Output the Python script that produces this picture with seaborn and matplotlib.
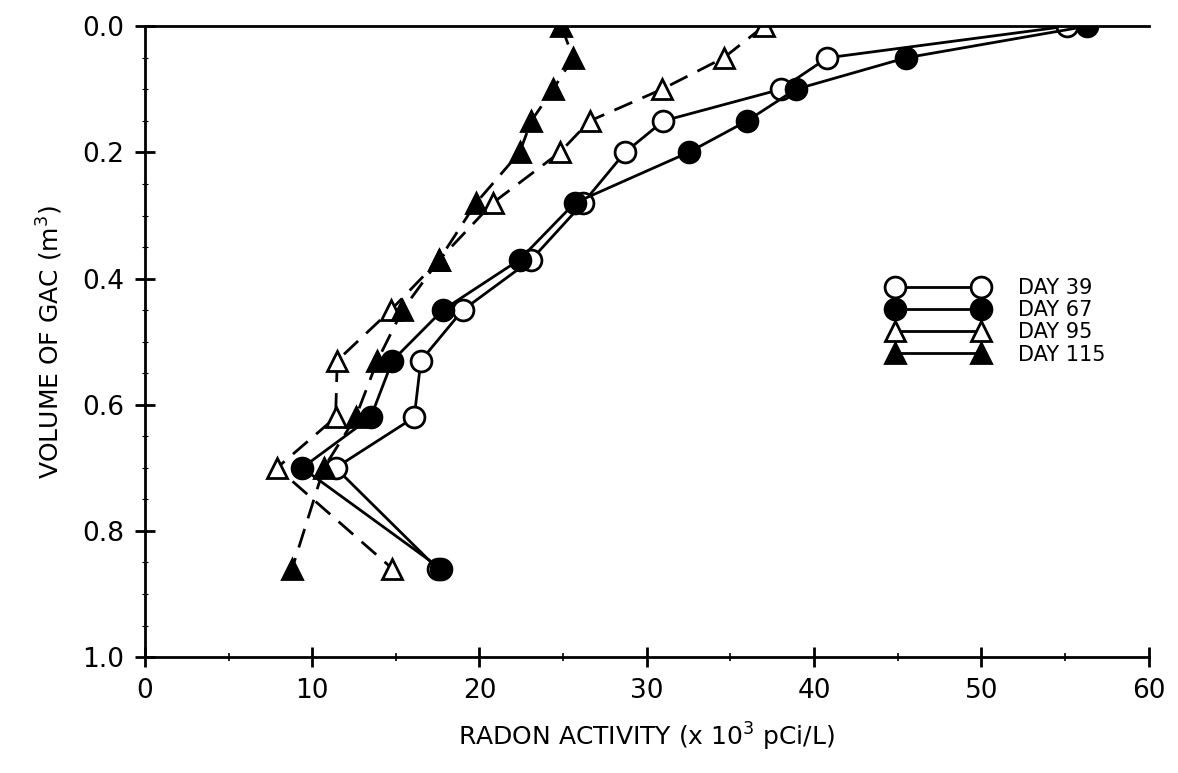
import seaborn as sns
import matplotlib.pyplot as plt
import pandas as pd
from matplotlib.lines import Line2D
from matplotlib.ticker import MultipleLocator

# sampling port volumes (m3) and radon activity (x 10^3 pCi/L)
volume = [0.0, 0.05, 0.10, 0.15, 0.20, 0.28, 0.37, 0.45, 0.53, 0.62, 0.70, 0.86]
day39 = [55.1, 40.8, 38.0, 31.0, 28.7, 26.2, 23.1, 19.0, 16.5, 16.1, 11.4, 17.5]
day67 = [56.3, 45.5, 38.9, 36.0, 32.5, 25.7, 22.4, 17.8, 14.8, 13.5, 9.4, 17.7]
day95 = [37.0, 34.6, 30.9, 26.6, 24.8, 20.8, 17.6, 14.7, 11.5, 11.4, 7.9, 14.8]
day115 = [24.9, 25.6, 24.4, 23.1, 22.4, 19.8, 17.6, 15.4, 13.9, 12.6, 10.7, 8.8]
labels = ['DAY 39', 'DAY 67', 'DAY 95', 'DAY 115']

sns.set_style('white')
plt.rcParams['font.family'] = ['DejaVu Sans']
plt.rcParams['text.color'] = 'black'
plt.rcParams['axes.labelcolor'] = 'black'
plt.rcParams['xtick.color'] = 'black'
plt.rcParams['ytick.color'] = 'black'

fig = plt.figure(figsize=(11.78, 7.73), dpi=100)
ax = fig.add_axes([0.123, 0.150, 0.852, 0.816])

# style per series: marker, face colour, line style
styles = {
    'DAY 39': ('o', 'white', '-'),
    'DAY 95': ('^', 'white', (0, (7, 4))),
    'DAY 67': ('o', 'black', '-'),
    'DAY 115': ('^', 'black', (0, (7, 4))),
}
series = {'DAY 39': day39, 'DAY 67': day67, 'DAY 95': day95, 'DAY 115': day115}

for name in ['DAY 39', 'DAY 95', 'DAY 67', 'DAY 115']:
    df = pd.DataFrame({'activity': series[name], 'volume': volume})
    m, fc, ls = styles[name]
    ms = 15 if m == 'o' else 14
    sns.lineplot(data=df, x='activity', y='volume', sort=False, estimator=None,
                 ax=ax, color='black', lw=2, linestyle=ls, marker=m,
                 markersize=ms, markerfacecolor=fc, markeredgecolor='black',
                 markeredgewidth=2, legend=False)

ax.set_xlim(0, 60)
ax.set_ylim(1.0, 0.0)
ax.xaxis.set_major_locator(MultipleLocator(10))
ax.xaxis.set_minor_locator(MultipleLocator(5))
ax.yaxis.set_major_locator(MultipleLocator(0.2))
ax.yaxis.set_minor_locator(MultipleLocator(0.05))
ax.yaxis.set_major_formatter(plt.FormatStrFormatter('%.1f'))

for s in ['left', 'bottom', 'top']:
    ax.spines[s].set_linewidth(2)
    ax.spines[s].set_color('black')
ax.spines['right'].set_visible(False)

ax.tick_params(axis='both', which='major', direction='inout', length=14, width=2,
               labelsize=19, pad=8, bottom=True, left=True, top=False, right=False)
ax.tick_params(axis='x', which='minor', direction='inout', length=6, width=1.2,
               bottom=True, top=False)
ax.tick_params(axis='y', which='minor', direction='inout', length=4, width=0.8,
               left=True, right=False)

ax.set_xlabel('RADON ACTIVITY (x 10$^3$ pCi/L)', fontsize=18, labelpad=12)
ax.set_ylabel('VOLUME OF GAC (m$^3$)', fontsize=18, labelpad=12)

handles = []
for name in labels:
    m, fc, _ = styles[name]
    handles.append(Line2D([], [], color='black', lw=2, marker=m,
                          markersize=15 if m == 'o' else 14,
                          markerfacecolor=fc, markeredgecolor='black',
                          markeredgewidth=2))
ax.legend(handles, labels, loc='upper left', bbox_to_anchor=(0.731, 0.617),
          numpoints=2, frameon=False, fontsize=15, handlelength=4.7,
          handletextpad=1.5, labelspacing=0.1, borderpad=0)

plt.savefig('out.png', dpi=100)
